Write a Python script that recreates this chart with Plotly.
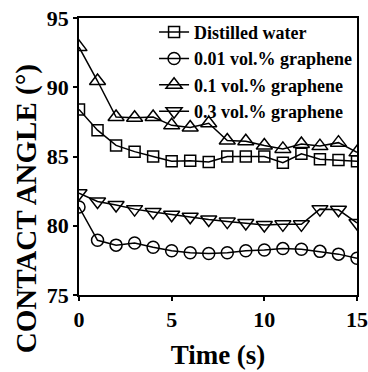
import plotly.graph_objects as go

# Contact angle over time for water and graphene nanofluids
time_s = list(range(16))
distilled_water = [88.4, 86.9, 85.8, 85.35, 85.0, 84.65, 84.7, 84.6, 85.0, 85.0, 85.0, 84.55, 85.2, 84.8, 84.75, 84.65]
graphene_001 = [81.35, 78.95, 78.6, 78.75, 78.45, 78.2, 78.05, 78.0, 78.05, 78.2, 78.25, 78.35, 78.3, 78.15, 77.95, 77.65]
graphene_01 = [92.9, 90.45, 87.85, 87.8, 87.85, 87.25, 87.1, 87.4, 86.15, 86.1, 85.8, 85.55, 85.9, 85.75, 86.0, 85.3]
graphene_03 = [82.35, 81.75, 81.5, 81.2, 81.0, 80.8, 80.65, 80.45, 80.3, 80.2, 80.05, 80.1, 80.1, 81.2, 81.15, 80.2]

series = [
    ("Distilled water", distilled_water, "square-open", 11),
    ("0.01 vol.% graphene", graphene_001, "circle-open", 12),
    ("0.1 vol.% graphene", graphene_01, "triangle-up-open", 14),
    ("0.3 vol.% graphene", graphene_03, "triangle-down-open", 14),
]

FONT = "Liberation Serif"

fig = go.Figure()
for name, vals, sym, sz in series:
    fig.add_trace(go.Scatter(
        x=time_s, y=vals, name=name, mode="lines+markers",
        line=dict(color="black", width=1.5),
        marker=dict(symbol=sym, size=sz, color="black",
                    line=dict(color="black", width=1.5)),
    ))

axis_common = dict(
    showline=True, linecolor="black", linewidth=1.5, mirror=True,
    ticks="outside", ticklen=4, tickwidth=1.5, tickcolor="black",
    showgrid=False, zeroline=False,
    tickfont=dict(family=FONT, size=22, color="black", weight="bold"),
)

fig.update_layout(
    width=368, height=372,
    margin=dict(l=79, r=11, t=18, b=77, autoexpand=False),
    paper_bgcolor="white", plot_bgcolor="white",
    xaxis=dict(range=[0, 15], tickvals=[0, 5, 10, 15], **axis_common,
               title=dict(text="Time (s)", standoff=14,
                          font=dict(family=FONT, size=27, color="black", weight="bold"))),
    yaxis=dict(range=[75, 95], tickvals=[75, 80, 85, 90, 95], **axis_common),
    legend=dict(x=0.27, y=1.015, xanchor="left", yanchor="top",
                bgcolor="rgba(0,0,0,0)", borderwidth=0,
                font=dict(family=FONT, size=18, color="black", weight="bold"),
                itemwidth=30, tracegroupgap=0),
    annotations=[dict(
        text="CONTACT ANGLE (°)", textangle=-90,
        xref="paper", yref="paper", x=-0.19, y=0.31,
        xanchor="center", yanchor="middle", showarrow=False,
        font=dict(family=FONT, size=29, color="black", weight="bold"),
    )],
)

fig.write_html("out.html")
